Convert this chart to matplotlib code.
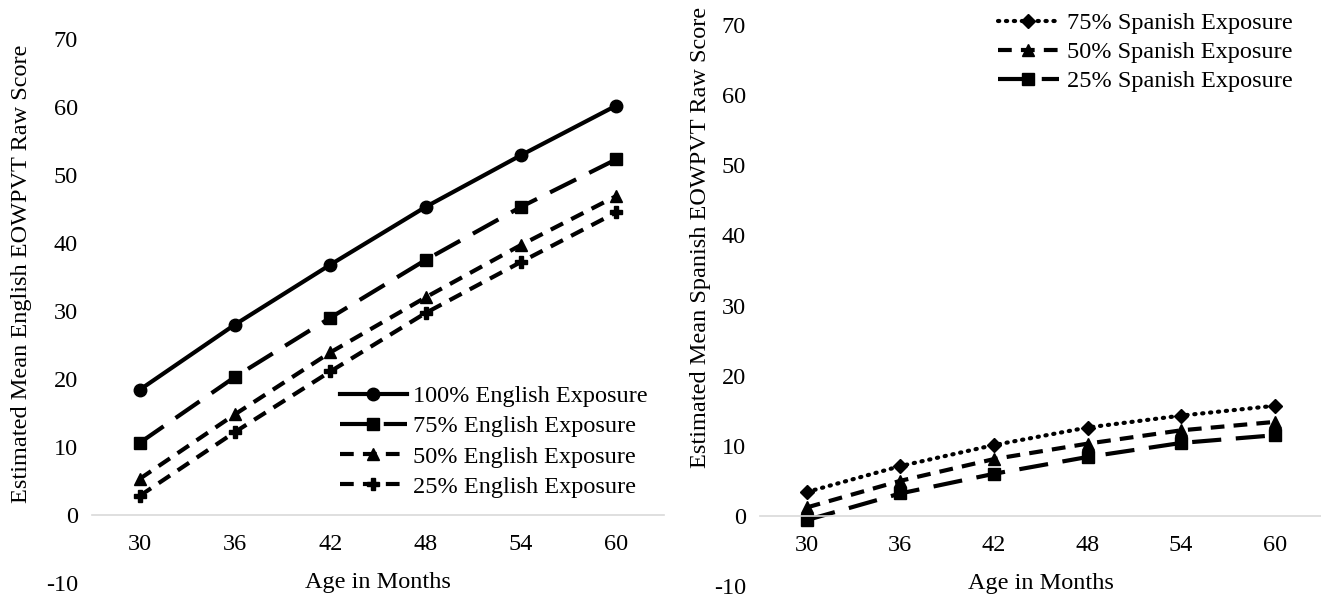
import matplotlib
matplotlib.use("Agg")
import matplotlib.pyplot as plt
import numpy as np

plt.rcParams['font.family'] = ['Liberation Serif', 'DejaVu Serif']
plt.rcParams['axes.unicode_minus'] = False

# data
ages = ['30', '36', '42', '48', '54', '60']

eng_100 = [18.4, 28.0, 36.8, 45.3, 52.9, 60.2]
eng_75 = [10.6, 20.3, 29.0, 37.5, 45.3, 52.3]
eng_50 = [5.3, 14.8, 23.9, 32.0, 39.7, 46.9]
eng_25 = [2.8, 12.2, 21.1, 29.7, 37.2, 44.5]

spa_75 = [3.4, 7.1, 10.1, 12.6, 14.3, 15.7]
spa_50 = [1.2, 5.0, 8.1, 10.3, 12.2, 13.4]
spa_25 = [-0.6, 3.2, 6.0, 8.4, 10.4, 11.5]

fs = 17.5
lw = 3
x = np.arange(len(ages))

fig = plt.figure(figsize=(13.21, 6.04), dpi=100)
ax1 = fig.add_axes([0.0696, 0.0348, 0.433, 0.9007])
ax2 = fig.add_axes([0.5753, 0.0298, 0.4251, 0.9288])


def style(ax, ylabel, ylab_xy):
    ax.set_xlim(-0.5, len(ages) - 0.5)
    ax.set_ylim(-10, 70)
    ax.set_yticks(range(-10, 71, 10))
    ax.set_xticks(x)
    ax.set_xticklabels(ages)
    for s in ['top', 'right', 'left']:
        ax.spines[s].set_visible(False)
    ax.spines['bottom'].set_position(('data', 0))
    ax.spines['bottom'].set_color('#d9d9d9')
    ax.spines['bottom'].set_linewidth(1.2)
    ax.tick_params(length=0, labelsize=fs)
    ax.tick_params(axis='x', pad=14)
    ax.tick_params(axis='y', pad=10)
    ax.set_xlabel('Age in Months', fontsize=fs, labelpad=12)
    ax.set_ylabel(ylabel, fontsize=fs)
    ax.yaxis.set_label_coords(*ylab_xy)
    ax.patch.set_alpha(0)


ax1.plot(x, eng_100, color='black', lw=lw, marker='o', ms=9,
         label='100% English Exposure')
ax1.plot(x, eng_75, color='black', lw=lw, marker='s', ms=9, dashes=(7, 3.5),
         label='75% English Exposure')
ax1.plot(x, eng_50, color='black', lw=lw, marker='^', ms=9, dashes=(3.3, 2.2),
         label='50% English Exposure')
ax1.plot(x, eng_25, color='black', lw=lw, marker='P', ms=8, dashes=(3.3, 2.2),
         label='25% English Exposure')
style(ax1, 'Estimated Mean English EOWPVT Raw Score', (-0.105, 0.568))
ax1.legend(loc='upper left', bbox_to_anchor=(340 / 1321, 1 - 385 / 604),
           bbox_transform=fig.transFigure, frameon=False, borderpad=0,
           fontsize=fs, handlelength=2.75, handletextpad=0.25,
           labelspacing=0.34, borderaxespad=0)

ax2.plot(x, spa_75, color='black', lw=lw, marker='D', ms=7, dashes=(0.3, 1.6),
         dash_capstyle='round', label='75% Spanish Exposure')
ax2.plot(x, spa_50, color='black', lw=lw, marker='^', ms=9, dashes=(3.3, 2.2),
         label='50% Spanish Exposure')
ax2.plot(x, spa_25, color='black', lw=lw, marker='s', ms=9, dashes=(7, 3.5),
         label='25% Spanish Exposure')
style(ax2, 'Estimated Mean Spanish EOWPVT Raw Score', (-0.087, 0.622))
ax2.legend(loc='upper left', bbox_to_anchor=(998 / 1321, 1 - 12 / 604),
           bbox_transform=fig.transFigure, frameon=False, borderpad=0,
           fontsize=fs, handlelength=2.5, handletextpad=0.33,
           labelspacing=0.29, borderaxespad=0)

fig.savefig('out.png', dpi=100)
